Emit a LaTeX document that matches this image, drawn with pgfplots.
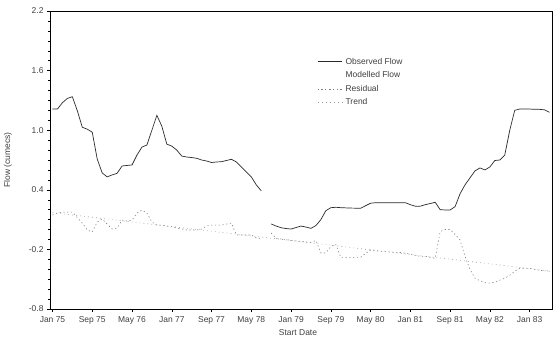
\documentclass[border=0pt]{standalone}
\usepackage{fontspec}
\setmainfont{Liberation Sans}
\usepackage{pgfplots}
\pgfplotsset{compat=1.18}
\usepackage{pgfplotstable}
\definecolor{obs}{HTML}{2A2A2A}
\definecolor{res}{HTML}{808080}
\definecolor{trd}{HTML}{9A9A9A}

\pgfplotstableread{
idx obs
0 1.213
1 1.213
2 1.277
3 1.320
4 1.337
5 1.195
6 1.030
7 1.010
8 0.980
9 0.710
10 0.570
11 0.530
12 0.550
13 0.566
14 0.640
15 0.645
16 0.650
17 0.750
18 0.830
19 0.851
20 1.000
21 1.150
22 1.040
23 0.860
24 0.840
25 0.800
26 0.740
27 0.730
28 0.725
29 0.717
30 0.700
31 0.690
32 0.675
33 0.680
34 0.683
35 0.695
36 0.707
37 0.680
38 0.630
39 0.580
40 0.530
41 0.450
42 0.390
43 nan
44 0.056
45 0.035
46 0.018
47 0.010
48 0.005
49 0.020
50 0.035
51 0.025
52 0.012
53 0.040
54 0.100
55 0.190
56 0.220
57 0.224
58 0.220
59 0.218
60 0.216
61 0.215
62 0.214
63 0.240
64 0.265
65 0.270
66 0.270
67 0.270
68 0.270
69 0.270
70 0.270
71 0.270
72 0.250
73 0.235
74 0.235
75 0.250
76 0.262
77 0.274
78 0.200
79 0.197
80 0.197
81 0.230
82 0.360
83 0.450
84 0.520
85 0.590
86 0.620
87 0.600
88 0.630
89 0.695
90 0.700
91 0.750
92 1.000
93 1.200
94 1.213
95 1.213
96 1.213
97 1.210
98 1.210
99 1.205
100 1.180
}\obsdata

\pgfplotstableread{
idx res
0 0.146
1 0.166
2 0.176
3 0.176
4 0.176
5 0.120
6 0.065
7 -0.005
8 -0.025
9 0.075
10 0.106
11 0.055
12 0.005
13 0.015
14 0.095
15 0.085
16 0.095
17 0.166
18 0.196
19 0.166
20 0.075
21 0.045
22 0.045
23 0.035
24 0.028
25 0.015
26 0.005
27 -0.005
28 -0.005
29 -0.005
30 0.005
31 0.035
32 0.045
33 0.045
34 0.045
35 0.055
36 0.065
37 -0.055
38 -0.055
39 -0.055
40 -0.055
41 -0.085
42 -0.090
43 nan
44 -0.035
45 -0.090
46 -0.095
47 -0.100
48 -0.110
49 -0.115
50 -0.120
51 -0.125
52 -0.130
53 -0.110
54 -0.236
55 -0.236
56 -0.170
57 -0.150
58 -0.280
59 -0.280
60 -0.280
61 -0.280
62 -0.280
63 -0.240
64 -0.206
65 -0.210
66 -0.223
67 -0.223
68 -0.225
69 -0.230
70 -0.231
71 -0.240
72 -0.246
73 -0.260
74 -0.270
75 -0.270
76 -0.280
77 -0.290
78 -0.020
79 0.000
80 0.000
81 -0.050
82 -0.105
83 -0.270
84 -0.400
85 -0.490
86 -0.515
87 -0.535
88 -0.540
89 -0.530
90 -0.510
91 -0.490
92 -0.460
93 -0.420
94 -0.390
95 -0.390
96 -0.390
97 -0.400
98 -0.410
99 -0.415
100 -0.420
}\resdata

\pgfplotstableread{
idx trend
0 0.170
10 0.112
20 0.053
30 -0.005
40 -0.064
50 -0.122
60 -0.181
70 -0.240
80 -0.298
90 -0.357
100 -0.418
}\trenddata

\begin{document}
\begin{tikzpicture}
\begin{axis}[
  at={(0,0)}, anchor=south west,
  scale only axis,
  width=502bp, height=298bp,
  xmin=-0.5, xmax=100.5,
  ymin=-0.8, ymax=2.2,
  axis line style={black, line width=0.6pt},
  xtick={0,8,16,24,32,40,48,56,64,72,80,88,96},
  xticklabels={Jan 75,Sep 75,May 76,Jan 77,Sep 77,May 78,Jan 79,Sep 79,May 80,Jan 81,Sep 81,May 82,Jan 83},
  ytick={-0.8,-0.2,0.4,1.0,1.6,2.2},
  yticklabels={-0.8,-0.2,0.4,1.0,1.6,2.2},
  minor y tick num=5,
  tick align=outside,
  xtick pos=bottom,
  ytick pos=left,
  major tick length=3bp,
  minor tick length=2bp,
  tick style={black, line width=0.4pt},
  ticklabel style={font=\fontsize{8.5}{10}\selectfont, text=black!75},
  xticklabel style={yshift=-1bp},
  xlabel={Start Date},
  ylabel={Flow (cumecs)},
  label style={font=\fontsize{8.5}{10}\selectfont, text=black!75},
  xlabel style={at={(axis description cs:0.494,-0.0805)}, anchor=center},
  ylabel style={at={(axis description cs:-0.084,0.5)}, anchor=center},
  unbounded coords=jump,
  legend style={draw=none, fill=none, at={(axis description cs:0.532,0.85)}, anchor=north west,
    font=\fontsize{8.5}{10}\selectfont, text=black!75, row sep=2bp, inner sep=0pt,
    nodes={inner xsep=3pt}},
  legend cell align=left,
  legend image post style={xscale=1.45},
]
\addplot[color=obs, line width=0.7pt] table[x=idx, y=obs] {\obsdata};
\addlegendentry{Observed Flow}
\addlegendimage{empty legend}
\addlegendentry{Modelled Flow}
\addplot[color=res, line width=0.6pt, dash pattern=on 1.2pt off 2.6pt] table[x=idx, y=res] {\resdata};
\addlegendentry{Residual}
\addplot[color=trd, line width=0.6pt, dash pattern=on 0.8pt off 3.2pt] table[x=idx, y=trend] {\trenddata};
\addlegendentry{Trend}
\end{axis}
\pgfresetboundingbox
\useasboundingbox (-50bp,-33bp) rectangle (506bp,309bp);
\end{tikzpicture}
\end{document}
